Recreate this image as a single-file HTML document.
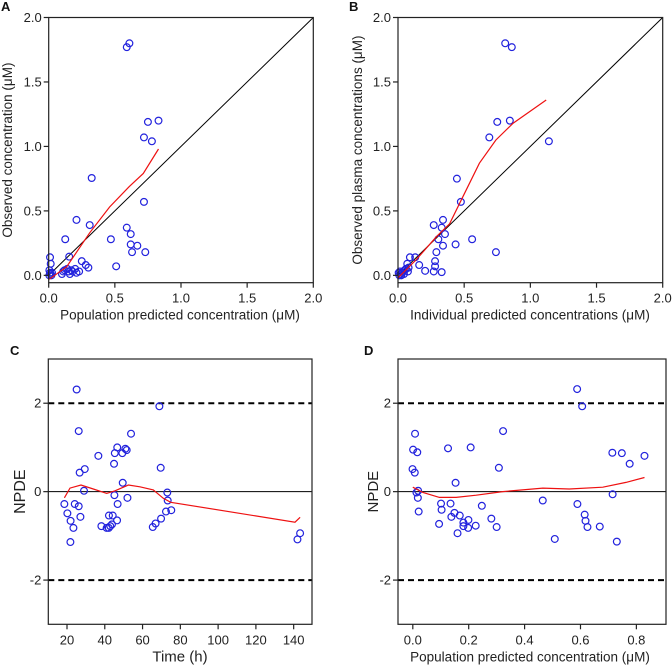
<!DOCTYPE html>
<html><head><meta charset="utf-8"><style>
body{margin:0;background:#fff;width:672px;height:667px;overflow:hidden}
svg{display:block;font-family:"Liberation Sans",sans-serif}
</style></head><body>
<svg id="c" width="672" height="667" viewBox="0 0 672 667" xmlns="http://www.w3.org/2000/svg"></svg>
<script>
// Panel A data
const aX=[0.59,0.61,0.83,0.75,0.72,0.78,0.325,0.72,0.21,0.31,0.59,0.62,0.125,0.47,0.62,0.67,0.63,0.73,0.155,0.01,0.015,0.25,0.28,0.30,0.51,0.005,0.01,0.015,0.02,0.025,0.1,0.11,0.12,0.14,0.15,0.16,0.17,0.18,0.2,0.21,0.23,0.005];
const aY=[1.77,1.80,1.20,1.19,1.07,1.04,0.755,0.57,0.43,0.39,0.37,0.32,0.28,0.28,0.24,0.23,0.18,0.18,0.145,0.14,0.09,0.11,0.08,0.06,0.07,0.04,0.02,0.01,0.0,0.02,0.01,0.03,0.04,0.05,0.03,0.01,0.04,0.03,0.05,0.02,0.03,0.0];
const aFitX=[0.005,0.136,0.31,0.46,0.61,0.715,0.83];
const aFitY=[-0.03,0.067,0.33,0.53,0.69,0.79,0.98];
// Panel B data
const bX=[0.81,0.86,0.845,0.75,0.69,1.14,0.445,0.475,0.34,0.27,0.33,0.355,0.305,0.56,0.34,0.435,0.29,0.74,0.09,0.13,0.28,0.16,0.28,0.205,0.27,0.33,0.07,0.08,0.075,0.06,0.05,0.04,0.03,0.02,0.01,0.005,0.045,0.015,0.025];
const bY=[1.80,1.77,1.20,1.19,1.07,1.04,0.75,0.57,0.43,0.39,0.37,0.32,0.28,0.28,0.23,0.24,0.18,0.18,0.14,0.14,0.11,0.08,0.07,0.035,0.03,0.025,0.09,0.06,0.03,0.05,0.04,0.03,0.02,0.01,0.0,0.02,0.01,0.03,0.0];
const bFitX=[0,0.136,0.29,0.39,0.49,0.615,0.74,0.87,1.12];
const bFitY=[-0.02,0.12,0.30,0.40,0.61,0.87,1.05,1.18,1.36];
// Panel C data
const cX=[25.1,26.2,53.9,68.9,46.6,50.9,51.6,45.3,49.3,36.6,44.9,69.6,29.4,26.7,49.5,29.0,73.1,45.1,52.0,73.3,18.6,24.1,46.8,26.2,20.2,72.4,75.2,42.2,44.2,27.1,46.5,21.9,69.8,66.9,43.8,38.2,65.4,23.4,42.9,42.1,41,21.8,142,143.4];
const cY=[2.31,1.37,1.31,1.93,1.00,0.97,0.94,0.87,0.87,0.81,0.63,0.54,0.51,0.43,0.20,0.02,-0.02,-0.08,-0.14,-0.20,-0.28,-0.28,-0.28,-0.33,-0.49,-0.45,-0.42,-0.54,-0.54,-0.57,-0.65,-0.66,-0.61,-0.72,-0.74,-0.78,-0.80,-0.82,-0.78,-0.82,-0.82,-1.14,-1.08,-0.94];
const cFitX=[18.6,21.6,27.4,33.9,41,45.4,52.5,58.6,65.7,71,74.9,140.7,143.4];
const cFitY=[-0.14,0.08,0.15,0.06,-0.04,0.02,0.15,0.11,0.04,-0.15,-0.24,-0.69,-0.58];
// Panel D data
const dX=[0.588,0.606,0.008,0.323,0.001,0.016,0.126,0.207,0.714,0.748,0.776,0.829,0.308,-0.001,0.007,0.153,0.019,0.013,0.018,0.715,0.465,0.589,0.101,0.135,0.247,0.103,0.021,0.149,0.168,0.138,0.615,0.281,0.618,0.199,0.181,0.094,0.225,0.181,0.625,0.669,0.198,0.300,0.160,0.508,0.730];
const dY=[2.32,1.93,1.31,1.37,0.95,0.89,0.98,1.00,0.88,0.87,0.63,0.81,0.54,0.51,0.43,0.20,0.02,-0.02,-0.14,-0.06,-0.20,-0.28,-0.27,-0.27,-0.32,-0.41,-0.45,-0.48,-0.54,-0.57,-0.52,-0.61,-0.66,-0.64,-0.70,-0.73,-0.77,-0.78,-0.80,-0.79,-0.82,-0.80,-0.94,-1.07,-1.13];
const dFitX=[0,0.036,0.095,0.155,0.227,0.322,0.465,0.56,0.68,0.763,0.829];
const dFitY=[0.10,-0.02,-0.13,-0.13,-0.08,0,0.08,0.06,0.10,0.21,0.32];
const concTicks=[0,0.5,1.0,1.5,2.0];
const concTickLabels=["0.0","0.5","1.0","1.5","2.0"];
const npdeTicks=[-2,0,2];
const npdeTickLabels=["-2","0","2"];
const timeTicks=[20,40,60,80,100,120,140];
const ppTicks=[0,0.2,0.4,0.6,0.8];
const ppTickLabels=["0.0","0.2","0.4","0.6","0.8"];

const NS="http://www.w3.org/2000/svg";
const svg=document.getElementById('c');
function mk(tag,attrs,parent,text){const e=document.createElementNS(NS,tag);for(const k in attrs)e.setAttribute(k,attrs[k]);if(text!==undefined)e.textContent=text;(parent||svg).appendChild(e);return e;}

function panel(o){
  const g=mk('g',{});
  
  
  const sx=v=>o.L+(v-o.xd[0])/(o.xd[1]-o.xd[0])*(o.R-o.L);
  const sy=v=>o.B-(v-o.yd[0])/(o.yd[1]-o.yd[0])*(o.B-o.T);
  // reference lines
  if(o.diag){const l=mk('line',{x1:sx(0),y1:sy(0),x2:sx(2),y2:sy(2),stroke:'#000','stroke-width':1},g);
    }
  if(o.npde){
    const z=mk('line',{x1:o.L,x2:o.R,y1:sy(0),y2:sy(0),stroke:'#000','stroke-width':1},g);
    
    [2,-2].forEach(v=>{const d=mk('line',{x1:o.L,x2:o.R,y1:sy(v),y2:sy(v),stroke:'#000','stroke-width':2,'stroke-dasharray':'6,4'},g);
      });
  }
  // points
  o.px.forEach((x,i)=>{const c=mk('circle',{cx:sx(x),cy:sy(o.py[i]),r:3.4,fill:'none',stroke:'#2222dd','stroke-width':1.2},g);
    });
  // fit
  const pts=o.fx.map((x,i)=>sx(x).toFixed(1)+','+sy(o.fy[i]).toFixed(1)).join(' ');
  const f=mk('polyline',{points:pts,fill:'none',stroke:'#ee1111','stroke-width':1.2},g);
  
  // box
  const b=mk('rect',{x:o.L,y:o.T,width:o.R-o.L,height:o.B-o.T,fill:'none',stroke:'#222','stroke-width':1.2},g);
  
  // x ticks
  o.xt.forEach((v,i)=>{const X=sx(v);mk('line',{x1:X,x2:X,y1:o.B,y2:o.B+5,stroke:'#222','stroke-width':1.2},g);
    const t=mk('text',{x:X,y:o.B+20,'text-anchor':'middle','font-size':13,fill:'#222'},g,o.xl[i]);
    });
  o.yt.forEach((v,i)=>{const Y=sy(v);mk('line',{x1:o.L-5,x2:o.L,y1:Y,y2:Y,stroke:'#222','stroke-width':1.2},g);
    const t=mk('text',{x:o.L-7,y:Y+4.5,'text-anchor':'end','font-size':13,fill:'#222'},g,o.yl[i]);
    });
  const xt=mk('text',{x:o.xtx,y:o.B+37,'text-anchor':'middle','font-size':o.xfs||13.5,fill:'#222'},g,o.xtitle);
  
  const yt=mk('text',{x:0,y:0,'text-anchor':'middle','font-size':o.yfs||13.5,fill:'#222',transform:`translate(${o.ytx},${(o.T+o.B)/2}) rotate(-90)`},g,o.ytitle);
  
  const pl=mk('text',{x:o.lx,y:o.ly,'font-size':13,'font-weight':'bold',fill:'#111'},g,o.letter);
  
}
panel({name:'panel-a',L:48.7,R:313.3,T:17.5,B:282.7,xd:[0,2],yd:[-0.057,2],px:aX,py:aY,fx:aFitX,fy:aFitY,diag:true,
  xt:concTicks,xl:concTickLabels,yt:concTicks,yl:concTickLabels,xtitle:'Population predicted concentration (μM)',xtx:180,
  ytitle:'Observed concentration (μM)',ytx:12,letter:'A',lx:1,ly:11});
panel({name:'panel-b',L:398,R:662.7,T:17.5,B:282.7,xd:[0,2],yd:[-0.057,2],px:bX,py:bY,fx:bFitX,fy:bFitY,diag:true,
  xt:concTicks,xl:concTickLabels,yt:concTicks,yl:concTickLabels,xtitle:'Individual predicted concentrations (μM)',xtx:530,
  ytitle:'Observed plasma concentrations (μM)',ytx:362,letter:'B',lx:349,ly:11});
panel({name:'panel-c',L:48.3,R:312,T:359,B:624.3,xd:[10.1,149.7],yd:[-3,3],px:cX,py:cY,fx:cFitX,fy:cFitY,npde:true,
  xt:timeTicks,xl:timeTicks.map(String),yt:npdeTicks,yl:npdeTickLabels,xtitle:'Time (h)',xtx:180,xfs:15,
  ytitle:'NPDE',ytx:25,yfs:16,letter:'C',lx:10,ly:355});
panel({name:'panel-d',L:398,R:666,T:359,B:624.3,xd:[-0.053,0.906],yd:[-3,3],px:dX,py:dY,fx:dFitX,fy:dFitY,npde:true,
  xt:ppTicks,xl:ppTickLabels,yt:npdeTicks,yl:npdeTickLabels,xtitle:'Population predicted concentration (μM)',xtx:530,
  ytitle:'NPDE',ytx:378,yfs:15,letter:'D',lx:364,ly:355});
</script>
</body></html>
